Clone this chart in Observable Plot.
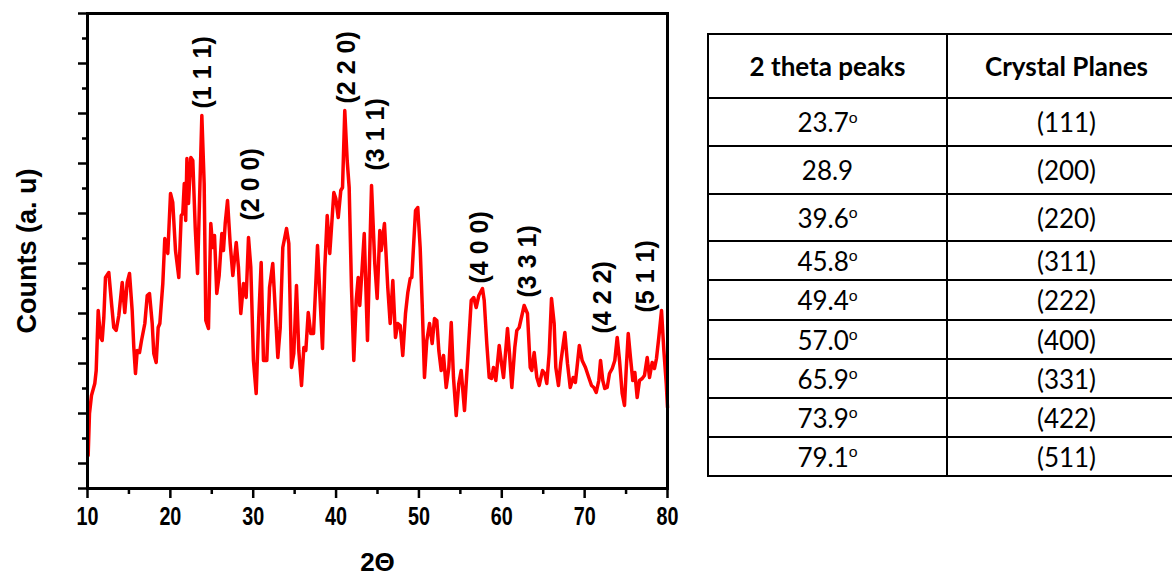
<!DOCTYPE html>
<html>
<head>
<meta charset="utf-8">
<script src="https://cdn.jsdelivr.net/npm/d3@7"></script>
<script src="https://cdn.jsdelivr.net/npm/@observablehq/plot@0.6"></script>
<style>
  html, body { margin: 0; padding: 0; background: #fff; width: 1172px; height: 577px; overflow: hidden; }
  #chart { position: absolute; left: 0; top: 0; }
  #peaks {
    position: absolute; left: 707px; top: 33px;
    border-collapse: collapse; table-layout: fixed; width: 474px;
    font-family: Lato, "Open Sans", sans-serif; font-size: 26px; color: #000;
  }
  #peaks th, #peaks td { border: 2px solid #000; text-align: center; padding: 0; width: 237px; }
  #peaks th { font-weight: bold; font-size: 26px; }
  #peaks .deg { font-size: 0.6em; position: relative; top: -0.6em; }
</style>
</head>
<body>
<div id="chart"></div>
<table id="peaks"></table>
<script>
// XRD pattern: 2θ positions and intensities (arbitrary units)
const twoTheta = [10.08,10.24,10.48,10.88,11.05,11.29,11.57,11.77,11.97,12.17,
  12.57,12.90,13.17,13.46,13.78,14.19,14.50,14.79,15.07,15.39,
  15.59,15.79,16.00,16.28,16.52,16.92,17.21,17.48,17.81,18.00,
  18.29,18.53,18.73,19.09,19.33,19.69,20.02,20.29,20.62,21.02,
  21.31,21.50,21.68,21.85,22.00,22.19,22.47,22.71,23.00,23.28,
  23.52,23.80,24.08,24.28,24.60,24.88,25.12,25.33,25.60,25.89,
  26.21,26.41,26.62,26.90,27.22,27.54,27.95,28.22,28.50,28.83,
  29.15,29.43,29.71,30.03,30.36,30.67,30.96,31.24,31.64,31.97,
  32.36,32.97,33.26,33.57,34.02,34.30,34.62,34.90,35.22,35.50,
  35.83,36.11,36.35,36.64,36.95,37.28,37.76,38.08,38.36,38.64,
  38.93,39.24,39.45,39.73,39.97,40.26,40.57,40.78,41.05,41.34,
  41.58,41.86,42.14,42.43,42.67,42.86,43.15,43.40,43.79,44.28,
  44.67,44.96,45.28,45.45,45.84,46.24,46.53,46.85,47.17,47.45,
  47.74,48.05,48.38,48.66,48.95,49.14,49.59,49.86,50.15,50.39,
  50.67,50.95,51.28,51.60,51.88,52.16,52.40,52.69,52.97,53.29,
  53.61,53.90,54.17,54.50,54.81,55.10,55.50,55.90,56.31,56.62,
  56.91,57.23,57.67,57.88,58.19,58.48,58.76,59.00,59.28,59.69,
  59.97,60.21,60.69,60.93,61.21,61.57,61.81,62.10,62.29,62.70,
  63.10,63.43,63.62,63.91,64.23,64.52,64.91,65.19,65.43,65.72,
  66.00,66.32,66.52,66.84,67.12,67.61,67.93,68.26,68.62,68.88,
  69.08,69.36,69.70,70.10,70.50,70.83,71.11,71.40,71.71,71.92,
  72.19,72.43,72.72,73.00,73.33,73.64,73.93,74.21,74.53,74.81,
  75.01,75.26,75.53,75.81,76.06,76.34,76.62,76.95,77.22,77.55,
  77.83,78.15,78.43,78.67,78.95,79.28,79.56,79.85,80.00];

const counts = [1.32,3.00,3.72,4.20,4.72,7.12,6.04,5.92,6.84,8.44,
  8.64,7.40,6.44,6.32,6.92,8.24,7.04,8.24,8.60,7.12,
  5.64,4.60,5.52,5.44,5.92,6.60,7.72,7.80,6.60,5.40,
  5.04,6.44,6.60,8.20,10.00,9.40,11.80,11.44,9.52,8.44,
  10.92,11.00,12.20,10.72,13.20,11.40,13.24,13.12,10.44,8.60,
  11.52,14.92,12.20,6.72,6.40,10.60,9.64,10.12,7.80,8.52,
  10.20,9.52,10.60,11.52,9.80,8.52,9.84,8.84,7.00,8.20,
  7.64,10.04,8.84,5.12,3.80,6.84,9.04,5.12,5.12,8.04,
  9.00,5.24,6.44,9.64,10.40,9.80,4.84,5.40,8.12,5.52,
  4.12,5.64,5.52,7.04,6.20,6.20,9.72,7.52,5.60,8.84,
  10.92,9.40,10.44,11.84,11.60,10.84,11.92,12.04,15.12,13.12,
  12.04,8.04,5.12,7.52,8.44,7.32,8.84,10.20,5.92,12.12,
  9.00,7.60,10.32,9.52,10.60,8.04,6.60,8.32,6.04,6.60,
  6.52,5.32,7.00,7.84,8.40,8.44,11.12,11.24,9.64,7.40,
  4.44,5.92,6.60,5.80,6.80,6.72,5.52,4.72,5.32,4.04,
  4.84,6.64,4.44,2.92,4.20,4.72,3.12,5.24,7.52,7.64,
  7.24,7.72,8.00,7.52,5.80,4.44,4.40,4.84,4.32,5.72,
  5.00,4.44,6.40,5.40,4.04,5.64,6.32,6.44,6.72,7.32,
  7.00,4.84,4.72,5.44,4.44,4.12,4.72,4.60,4.20,5.40,
  7.60,6.60,4.84,4.12,5.04,6.24,5.00,4.04,4.44,4.24,
  4.84,5.72,5.12,4.84,4.44,4.12,4.04,3.84,4.32,5.12,
  4.32,4.00,4.04,4.60,4.80,5.12,6.04,5.12,3.80,3.32,
  4.72,6.20,5.24,4.32,4.64,3.64,4.32,4.40,4.52,5.24,
  4.44,5.04,4.80,5.20,6.04,7.12,5.52,4.20,3.24];

// Miller-index annotations above the reflections
const peakLabels = ["(1 1 1)", "(2 0 0)", "(2 2 0)", "(3 1 1)", "(4 0 0)", "(3 3 1)", "(4 2 2)", "(5 1 1)"];
const peakX = [23.88, 29.79, 41.26, 44.76, 57.43, 63.22, 72.27, 77.46];
const peakY = [15.2, 10.72, 15.4, 12.72, 8.2, 7.64, 6.2, 7.04];

// Axis ticks
const xMajorTicks = [10, 20, 30, 40, 50, 60, 70, 80];
const xMinorTicks = [15, 25, 35, 45, 55, 65, 75];
const yMajorTicks = [0, 1, 3, 5, 7, 9, 11, 13, 15, 17, 19];
const yMinorTicks = [2, 4, 6, 8, 10, 12, 14, 16, 18];

// Peak assignment table
const tableHeaders = ["2 theta peaks", "Crystal Planes"];
const tableAngles = ["23.7º", "28.9", "39.6º", "45.8º", "49.4º", "57.0º", "65.9º", "73.9º", "79.1º"];
const tablePlanes = ["(111)", "(200)", "(220)", "(311)", "(222)", "(400)", "(331)", "(422)", "(511)"];

const pattern = twoTheta.map((x, i) => ({x, y: counts[i]}));
const peaks = peakLabels.map((label, i) => ({label, x: peakX[i], y: peakY[i]}));

const sansBold = "'Liberation Sans', Arial, sans-serif";

const chart = Plot.plot({
  width: 700,
  height: 577,
  marginLeft: 87,
  marginRight: 33,
  marginTop: 13,
  marginBottom: 89,
  x: {domain: [10, 80], axis: null, label: null},
  y: {domain: [0, 19], axis: null, label: null},
  style: {background: "white", color: "black", fontFamily: sansBold, fontWeight: "bold"},
  marks: [
    Plot.axisX(xMajorTicks, {tickSize: 10, tickPadding: 8, strokeWidth: 2.5, fontSize: 26,
      fontWeight: "bold", tickFormat: d => String(d), label: null}),
    Plot.axisX(xMinorTicks, {tickSize: 6, strokeWidth: 2.5, tickFormat: () => "", label: null}),
    Plot.axisY(yMajorTicks, {tickSize: 9, strokeWidth: 2.5, tickFormat: () => "", label: null}),
    Plot.axisY(yMinorTicks, {tickSize: 5, strokeWidth: 2.5, tickFormat: () => "", label: null}),
    Plot.line(pattern, {x: "x", y: "y", stroke: "#ff0000", strokeWidth: 3.5, strokeLinejoin: "round"}),
    Plot.text(peaks, {x: "x", y: "y", text: "label", rotate: -90, textAnchor: "start",
      fontSize: 25, fontWeight: "bold", fill: "black"}),
    Plot.frame({stroke: "black", strokeWidth: 3}),
    Plot.text(["Counts (a. u)"], {frameAnchor: "left", textAnchor: "middle", rotate: -90, dx: -60,
      fontSize: 27, fontWeight: "bold"}),
    Plot.text(["2Θ"], {frameAnchor: "bottom", textAnchor: "middle", lineAnchor: "middle", dy: 74,
      fontSize: 26, fontWeight: "bold", ariaLabel: "x-title"})
  ]
});
document.getElementById("chart").appendChild(chart);

// Tick numerals: larger, condensed bold face
d3.select(chart)
  .selectAll('g[aria-label="x-axis tick label"]')
  .attr("font-size", 26)
  .style("font-size", "26px");

d3.select(chart)
  .selectAll('g[aria-label="x-axis tick label"] text, g[aria-label="x-title"] text')
  .attr("transform", function () {
    const t = this.getAttribute("transform") || "";
    return t + " scale(0.76,1)";
  });

// Build the table
const rowHeights = [64, 48, 48, 47, 39, 40, 39, 39, 39, 39];
const table = document.getElementById("peaks");
const head = document.createElement("tr");
head.style.height = rowHeights[0] + "px";
tableHeaders.forEach(h => { const th = document.createElement("th"); th.textContent = h; head.appendChild(th); });
table.appendChild(head);
const fmtAngle = s => s.replace("º", '<span class="deg">o</span>');
tableAngles.forEach((a, i) => {
  const tr = document.createElement("tr");
  tr.style.height = rowHeights[i + 1] + "px";
  const td1 = document.createElement("td"); td1.innerHTML = fmtAngle(a);
  const td2 = document.createElement("td"); td2.textContent = tablePlanes[i];
  tr.appendChild(td1); tr.appendChild(td2);
  table.appendChild(tr);
});
</script>
</body>
</html>
